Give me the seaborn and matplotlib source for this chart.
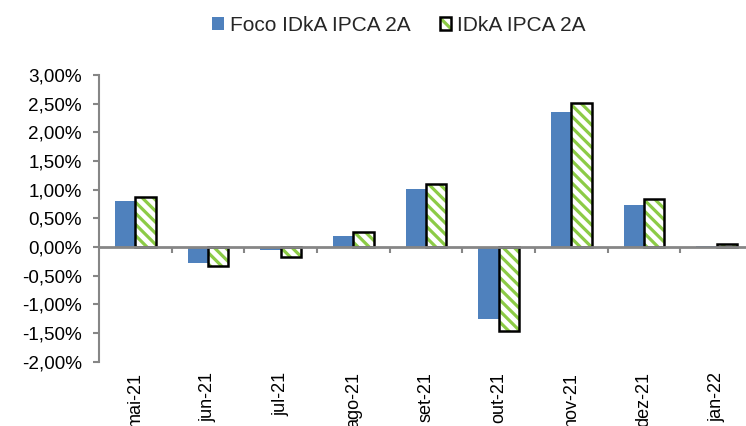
import matplotlib
matplotlib.use("Agg")
import matplotlib.pyplot as plt
import seaborn as sns
import pandas as pd
from matplotlib.patches import Patch, Rectangle
from matplotlib.legend_handler import HandlerBase
from matplotlib.ticker import FuncFormatter, FixedLocator

categories = ["mai-21", "jun-21", "jul-21", "ago-21", "set-21", "out-21", "nov-21", "dez-21", "jan-22"]
foco = [0.81, -0.27, -0.06, 0.20, 1.02, -1.25, 2.36, 0.74, 0.02]
idka = [0.88, -0.33, -0.18, 0.27, 1.10, -1.46, 2.51, 0.84, 0.05]
series_names = ["Foco IDkA IPCA 2A", "IDkA IPCA 2A"]

df = pd.DataFrame({
    "cat": categories * 2,
    "val": foco + idka,
    "serie": [series_names[0]] * len(categories) + [series_names[1]] * len(categories),
})

sns.set_theme(style="white")
plt.rcParams["font.family"] = ["Liberation Sans", "DejaVu Sans"]
plt.rcParams["hatch.linewidth"] = 2.3

BLUE = "#4F81BD"
GREEN = "#8CCB46"
GRAY = "#868686"
HATCH = "\\\\\\"

fig = plt.figure(figsize=(7.46, 4.26), dpi=100)
ax = fig.add_axes([99 / 746, (426 - 361.7) / 426, 654 / 746, 286.7 / 426])

sns.barplot(data=df, x="cat", y="val", hue="serie", order=categories,
            hue_order=series_names, palette=[BLUE, GREEN], width=0.56,
            gap=0, ax=ax, legend=False, errorbar=None, saturation=1)

n = len(categories)
green_patches = ax.patches[n:2 * n]
for p in ax.patches[:n]:
    p.set_edgecolor("none")
    p.set_linewidth(0)
for p in green_patches:
    p.set_facecolor("white")
    p.set_edgecolor(GREEN)
    p.set_hatch(HATCH)
    p.set_linewidth(0)
    x, y = p.get_xy()
    ax.add_patch(Rectangle((x, y), p.get_width(), p.get_height(),
                           facecolor="none", edgecolor="black", linewidth=1.8, zorder=3))

ax.set_xlim(-0.5, n - 0.5)
ax.set_ylim(-2, 3)
ax.set_yticks([-2, -1.5, -1, -0.5, 0, 0.5, 1, 1.5, 2, 2.5, 3])
ax.yaxis.set_major_formatter(FuncFormatter(lambda v, _: f"{v:.2f}%".replace(".", ",")))
ax.set_xlabel("")
ax.set_ylabel("")

for s in ["top", "right"]:
    ax.spines[s].set_visible(False)
ax.spines["left"].set_color(GRAY)
ax.spines["left"].set_linewidth(1.5)
ax.spines["bottom"].set_position(("data", 0))
ax.spines["bottom"].set_color(GRAY)
ax.spines["bottom"].set_linewidth(2)
ax.spines["bottom"].set_zorder(4)

ax.tick_params(axis="y", which="major", direction="out", length=4, width=1.5,
               color=GRAY, labelsize=13.6, labelcolor="black", pad=8.5, left=True)
ax.xaxis.set_minor_locator(FixedLocator([i + 0.5 for i in range(n)]))
ax.tick_params(axis="x", which="minor", direction="out", length=4, width=1.5,
               color=GRAY, bottom=True)
ax.tick_params(axis="x", which="major", length=0, pad=90, labelsize=13,
               labelcolor="black", labelrotation=90)
for lab in ax.get_xticklabels():
    lab.set_verticalalignment("top")


class HatchBoxHandler(HandlerBase):
    def create_artists(self, legend, orig_handle, xdescent, ydescent, width, height, fontsize, trans):
        fill = Rectangle((-xdescent, -ydescent), width, height, facecolor="white",
                         edgecolor=GREEN, hatch=HATCH, linewidth=0, transform=trans)
        box = Rectangle((-xdescent, -ydescent), width, height, facecolor="none",
                        edgecolor="black", linewidth=1.8, transform=trans)
        return [fill, box]


h1 = Patch(facecolor=BLUE, edgecolor="none")
h2 = Patch(facecolor="white", edgecolor="black")
fig.legend([h1, h2], series_names, loc="center", bbox_to_anchor=(0.535, 0.941),
           ncol=2, frameon=False, fontsize=15, handlelength=0.55, handleheight=0.55,
           handletextpad=0.3, columnspacing=1.4,
           handler_map={h2: HatchBoxHandler()})

fig.savefig("out.png", dpi=100)
